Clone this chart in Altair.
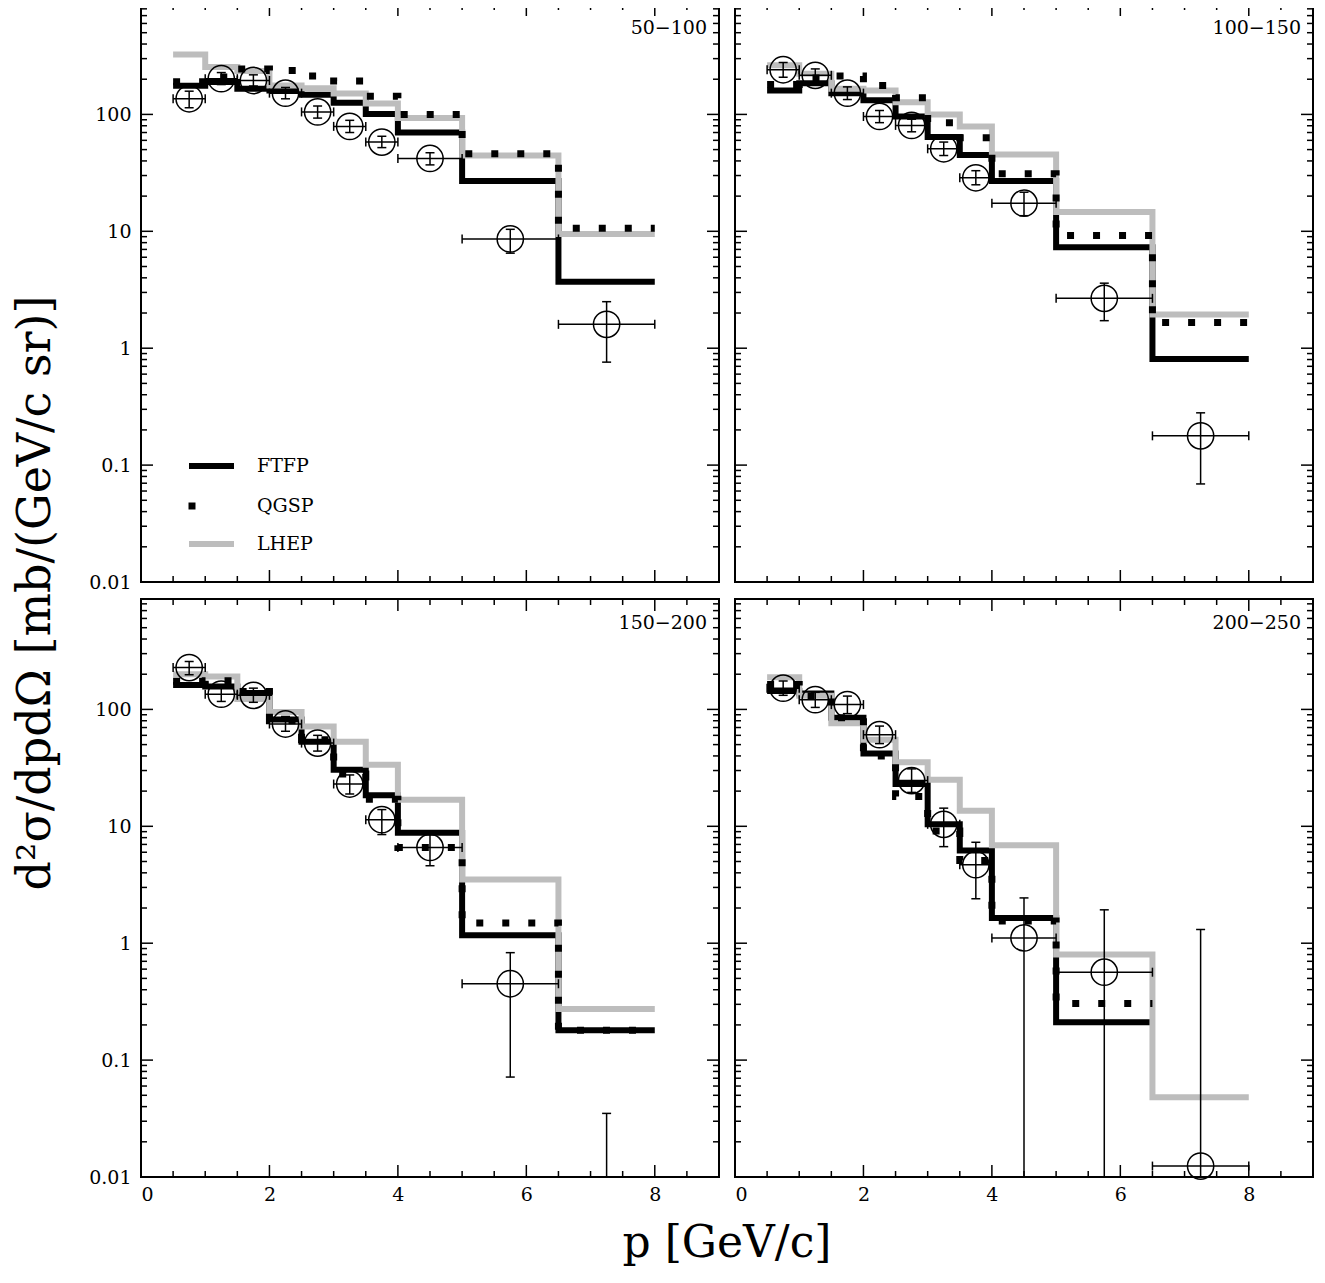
import altair as alt
import pandas as pd

NAN = float("nan")

EDGES = [0.5, 1.0, 1.5, 2.0, 2.5, 3.0, 3.5, 4.0, 5.0, 6.5, 8.0]
CENTERS = [0.75, 1.25, 1.75, 2.25, 2.75, 3.25, 3.75, 4.5, 5.75, 7.25]
PANEL_LABELS = ["50\u2212100", "100\u2212150", "150\u2212200", "200\u2212250"]

FTFP = [
    [176, 189, 166, 160, 147, 126, 101, 70, 27, 3.7],
    [160, 185, 152, 132, 96, 64, 45, 27, 7.3, 0.81],
    [162, 157, 138, 82, 53, 30.5, 18.4, 8.8, 1.17, 0.18],
    [144, 137, 85, 42, 23, 10.4, 6.2, 1.64, 0.211],
]
QGSP = [
    [190, 209, 245, 238, 213, 193, 143, 100, 46, 10.6],
    [180, 205, 213, 177, 139, 85, 63, 31, 9.2, 1.66],
    [174, 176, 142, 80, 55, 28, 17, 6.6, 1.49, 0.18],
    [163, 130, 85, 40, 18, 9.1, 5.1, 1.55, 0.305],
]
LHEP = [
    [326, 254, 235, 177, 167, 151, 124, 93, 44.5, 9.5],
    [263, 223, 166, 160, 127, 100, 79, 45.5, 14.6, 1.94],
    [200, 191, 123, 95, 71.5, 53, 33.7, 16.9, 3.5, 0.273],
    [188, 131, 76, 55, 35.3, 25, 13.6, 6.9, 0.80, 0.048],
]
DATA = [
    [136, 202, 195, 152, 105, 79, 58, 42, 8.6, 1.6],
    [241, 216, 152, 96, 80.5, 50.8, 28.7, 17.4, 2.67, 0.178],
    [228, 135, 132, 75, 51.5, 23, 11.4, 6.6, 0.45, NAN],
    [152, 121, 110, 60.8, 24.6, 10.4, 4.7, 1.11, 0.565, 0.0124],
]
ERR_HI = [
    [158, 228, 218, 170, 118, 89, 65, 47, 10.4, 2.5],
    [278, 245, 172, 108, 91, 58, 33, 21.6, 3.6, 0.28],
    [257, 155, 152, 87, 60, 27.5, 13.9, 8.5, 0.83, 0.035],
    [175, 140, 130, 72, 31, 14.3, 7.3, 2.44, 1.93, 1.31],
]
ERR_LO = [
    [114, 180, 175, 136, 93, 70, 52, 37, 6.5, 0.76],
    [208, 190, 134, 85, 71, 44.5, 25, 13.6, 1.72, 0.069],
    [198, 117, 115, 65, 44, 18.9, 8.5, 4.6, 0.0716, 0.005],
    [132, 104, 92, 51, 19.5, 6.7, 2.4, 0.005, 0.005, 0.005],
]

X_MAJOR = [2, 4, 6, 8]
X_MINOR = [0.5, 1, 1.5, 2.5, 3, 3.5, 4.5, 5, 5.5, 6.5, 7, 7.5, 8.5]
Y_MAJOR = [0.1, 1, 10, 100]
Y_MINOR = [0.02, 0.03, 0.04, 0.05, 0.06, 0.07, 0.08, 0.09,
           0.2, 0.3, 0.4, 0.5, 0.6, 0.7, 0.8, 0.9,
           2, 3, 4, 5, 6, 7, 8, 9,
           20, 30, 40, 50, 60, 70, 80, 90,
           200, 300, 400, 500, 600, 700, 800]

W = 578
H = 578
FONT = "DejaVu Serif"
GRAY = "#bdbdbd"

rows = []
for p in range(4):
    r, c = divmod(p, 2)
    base = {"row": r, "col": c}
    for name, series in (("FTFP", FTFP[p]), ("QGSP", QGSP[p]), ("LHEP", LHEP[p])):
        for i, v in enumerate(series):
            rows.append({**base, "kind": name, "x": EDGES[i], "y": v})
        rows.append({**base, "kind": name, "x": EDGES[len(series)], "y": series[-1]})
    for i, v in enumerate(DATA[p]):
        rows.append({**base, "kind": "data", "x": CENTERS[i], "y": v,
                     "xlo": EDGES[i], "xhi": EDGES[i + 1],
                     "ylo": ERR_LO[p][i], "yhi": ERR_HI[p][i]})
    for v in X_MAJOR:
        rows.append({**base, "kind": "xmaj", "x": v})
    for v in X_MINOR:
        rows.append({**base, "kind": "xmin", "x": v})
    for v in Y_MAJOR:
        rows.append({**base, "kind": "ymaj", "y": v})
    for v in Y_MINOR:
        rows.append({**base, "kind": "ymin", "y": v})
    rows.append({**base, "kind": "label", "label": PANEL_LABELS[p]})
    if p == 0:
        rows.append({**base, "kind": "legend"})

df = pd.DataFrame(rows)

XS = alt.Scale(domain=[0, 9], nice=False, zero=False)
YS = alt.Scale(type="log", domain=[0.01, 880], nice=False)
XAX = alt.Axis(values=[0, 2, 4, 6, 8], format="d", title="", labelPadding=8,
               ticks=False, domain=False, grid=False)
YAX = alt.Axis(values=[0.01, 0.1, 1, 10, 100], format=".2~f", title="", labelPadding=10,
               ticks=False, domain=False, grid=False)


def X(f):
    return alt.X(f, type="quantitative", scale=XS, axis=XAX)


def Y(f):
    return alt.Y(f, type="quantitative", scale=YS, axis=YAX)


def only(k):
    return alt.datum.kind == k


B = alt.Chart()

ftfp = B.mark_line(interpolate="step-after", color="black", strokeWidth=6,
                   strokeCap="butt", strokeJoin="miter").encode(
    x=X("x"), y=Y("y")).transform_filter(only("FTFP"))
lhep = B.mark_line(interpolate="step-after", color=GRAY, strokeWidth=6,
                   strokeCap="butt", strokeJoin="miter").encode(
    x=X("x"), y=Y("y")).transform_filter(only("LHEP"))
qgsp = B.mark_line(interpolate="step-after", color="black", strokeWidth=7,
                   strokeDash=[7, 19], strokeCap="butt").encode(
    x=X("x"), y=Y("y")).transform_filter(only("QGSP"))

hbar = B.mark_rule(color="black", strokeWidth=1.5, clip=True).encode(
    x=X("xlo"), x2=alt.X2("xhi"), y=Y("y")).transform_filter(only("data"))
hcap1 = B.mark_tick(orient="vertical", size=9, thickness=1.5, color="black", clip=True,
                    opacity=1).encode(x=X("xlo"), y=Y("y")).transform_filter(only("data"))
hcap2 = B.mark_tick(orient="vertical", size=9, thickness=1.5, color="black", clip=True,
                    opacity=1).encode(x=X("xhi"), y=Y("y")).transform_filter(only("data"))
vbar = B.mark_rule(color="black", strokeWidth=1.5, clip=True).encode(
    x=X("x"), y=Y("ylo"), y2=alt.Y2("yhi")).transform_filter(only("data"))
vcap1 = B.mark_tick(orient="horizontal", size=9, thickness=1.5, color="black", clip=True,
                    opacity=1).encode(x=X("x"), y=Y("yhi")).transform_filter(only("data"))
vcap2 = B.mark_tick(orient="horizontal", size=9, thickness=1.5, color="black", clip=True,
                    opacity=1).encode(x=X("x"), y=Y("ylo")).transform_filter(only("data"))
circ = B.mark_point(shape="circle", size=690, filled=False, color="black",
                    strokeWidth=1.5, opacity=1).encode(
    x=X("x"), y=Y("y")).transform_filter(only("data"))

tick_layers = []
for kind, ln in (("ymaj", 12), ("ymin", 6)):
    tick_layers.append(B.mark_rule(color="black", strokeWidth=1.5).encode(
        y=Y("y"), x=alt.value(0), x2=alt.value(ln)).transform_filter(only(kind)))
    tick_layers.append(B.mark_rule(color="black", strokeWidth=1.5).encode(
        y=Y("y"), x=alt.value(W), x2=alt.value(W - ln)).transform_filter(only(kind)))
for kind, ln in (("xmaj", 12), ("xmin", 6)):
    tick_layers.append(B.mark_rule(color="black", strokeWidth=1.5).encode(
        x=X("x"), y=alt.value(H), y2=alt.value(H - ln)).transform_filter(only(kind)))
    tick_layers.append(B.mark_rule(color="black", strokeWidth=1.5).encode(
        x=X("x"), y=alt.value(0), y2=alt.value(ln)).transform_filter(only(kind)))

label = B.mark_text(align="right", baseline="middle", font=FONT, fontSize=19,
                    color="black").encode(
    x=alt.value(W - 12), y=alt.value(24), text="label:N").transform_filter(only("label"))

leg = []
leg.append(B.mark_rule(color="black", strokeWidth=6).encode(
    x=alt.value(48), x2=alt.value(93), y=alt.value(462)).transform_filter(only("legend")))
leg.append(B.mark_square(color="black", size=49, opacity=1).encode(
    x=alt.value(51), y=alt.value(502)).transform_filter(only("legend")))
leg.append(B.mark_rule(color=GRAY, strokeWidth=6).encode(
    x=alt.value(48), x2=alt.value(93), y=alt.value(540)).transform_filter(only("legend")))
for txt, yy in (("FTFP", 462), ("QGSP", 502), ("LHEP", 540)):
    leg.append(B.mark_text(align="left", baseline="middle", font=FONT, fontSize=19,
                           color="black").encode(
        x=alt.value(116), y=alt.value(yy), text=alt.value(txt)).transform_filter(only("legend")))

layers = [ftfp, lhep, qgsp, hbar, hcap1, hcap2, vbar, vcap1, vcap2, circ] + tick_layers + [label] + leg

inner = alt.layer(*layers, data=df).properties(width=W, height=H)

chart = inner.facet(
    row=alt.Row("row:O", title="d\u00b2\u03c3/dpd\u03a9 [mb/(GeV/c sr)]",
                header=alt.Header(labels=False, titleFont=FONT, titleFontSize=46,
                                  titleFontWeight="normal", titleColor="black",
                                  titlePadding=18)),
    column=alt.Column("col:O", title="p [GeV/c]",
                      header=alt.Header(labels=False, orient="bottom", titleFont=FONT,
                                        titleFontSize=44, titleFontWeight="normal",
                                        titleColor="black", titlePadding=8)),
    spacing={"row": 17, "column": 16},
).properties(
    bounds="flush",
    padding={"left": 4, "top": -6, "right": 0, "bottom": 8}
).configure_view(
    stroke="black", strokeWidth=2
).configure_axis(
    labelFont=FONT, labelFontSize=19, labelColor="black"
)

chart.save("out.html", embed_options={"renderer": "svg", "actions": False})
